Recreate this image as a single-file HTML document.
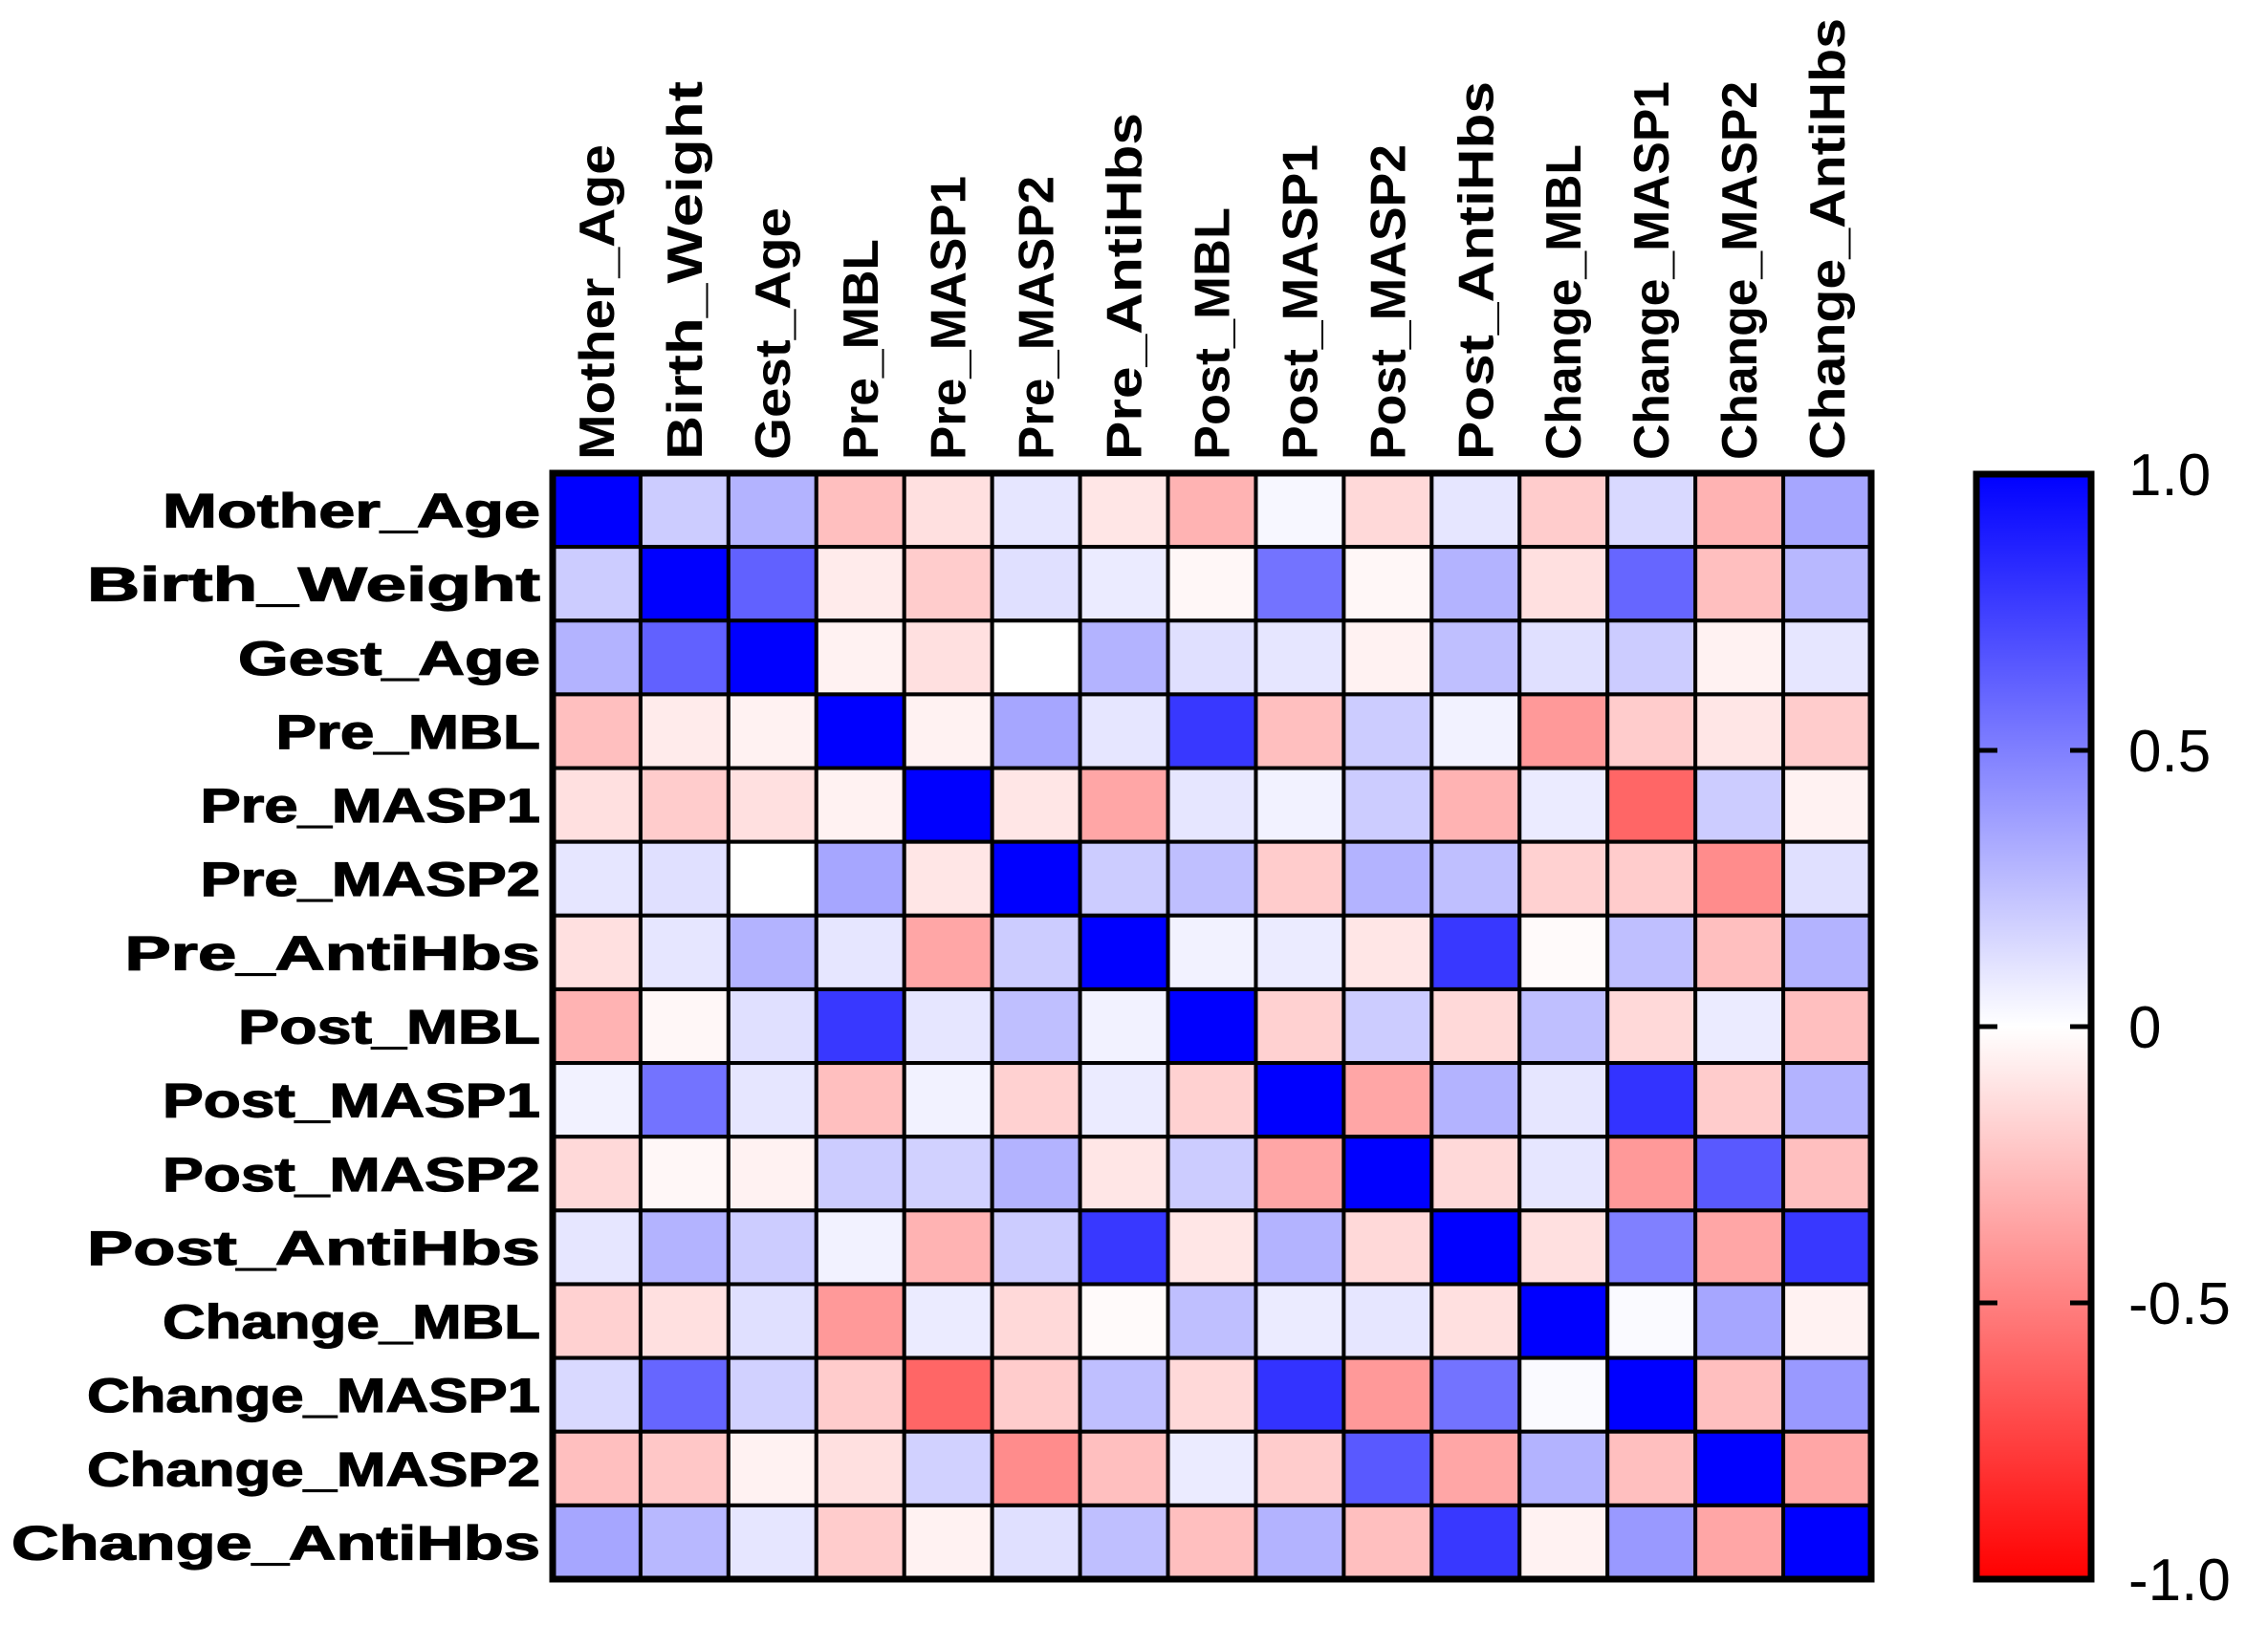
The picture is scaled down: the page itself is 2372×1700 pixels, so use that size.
<!DOCTYPE html>
<html><head><meta charset="utf-8"><style>
html,body{margin:0;padding:0;background:#fff;}
svg{display:block;}
</style></head><body>
<svg id="chart" width="2372" height="1700" viewBox="0 0 2372 1700" xmlns="http://www.w3.org/2000/svg" font-family="Liberation Sans, Arial, sans-serif">
<defs>
<linearGradient id="cbgrad" x1="0" y1="0" x2="0" y2="1">
<stop offset="0" stop-color="#0000ff"/><stop offset="0.5" stop-color="#ffffff"/><stop offset="1" stop-color="#ff0000"/>
</linearGradient>
</defs>
<g id="cells"></g>
<g id="rowlabels"></g>
<g id="collabels"></g>
<g id="colorbar"></g>
</svg>
<script>
const labels = ["Mother_Age","Birth_Weight","Gest_Age","Pre_MBL","Pre_MASP1","Pre_MASP2","Pre_AntiHbs","Post_MBL","Post_MASP1","Post_MASP2","Post_AntiHbs","Change_MBL","Change_MASP1","Change_MASP2","Change_AntiHbs"];
const row0 = [1,.2,.3,-.25,-.12,.1,-.1,-.3,.03,-.15,.1,-.2,.15,-.3,.35];
const row1 = [.2,1,.62,-.08,-.2,.12,.08,-.03,.55,-.03,.3,-.12,.6,-.25,.28];
const row2 = [.3,.62,1,-.05,-.12,0,.3,.12,.1,-.05,.25,.12,.2,-.05,.1];
const row3 = [-.25,-.08,-.05,1,-.05,.35,.1,.78,-.25,.2,.05,-.4,-.2,-.1,-.2];
const row4 = [-.12,-.2,-.12,-.05,1,-.1,-.35,.1,.05,.2,-.3,.08,-.6,.2,-.05];
const row5 = [.1,.12,0,.35,-.1,1,.2,.25,-.2,.3,.25,-.18,-.2,-.45,.12];
const row6 = [-.12,.1,.3,.1,-.35,.2,1,.05,.08,-.1,.78,-.02,.25,-.25,.3];
const row7 = [-.3,-.03,.12,.78,.1,.25,.05,1,-.18,.2,-.15,.25,-.15,.08,-.25];
const row8 = [.05,.55,.1,-.25,.05,-.18,.08,-.18,1,-.35,.3,.1,.8,-.2,.3];
const row9 = [-.15,-.03,-.05,.2,.18,.3,-.1,.2,-.35,1,-.15,.1,-.4,.65,-.25];
const row10 = [.1,.3,.2,.05,-.3,.2,.78,-.1,.3,-.15,1,-.12,.5,-.35,.78];
const row11 = [-.18,-.12,.12,-.4,.08,-.15,-.02,.25,.08,.1,-.12,1,.02,.35,-.05];
const row12 = [.15,.6,.18,-.2,-.6,-.2,.25,-.15,.8,-.4,.55,.02,1,-.25,.4];
const row13 = [-.25,-.22,-.05,-.12,.18,-.45,-.25,.08,-.2,.65,-.35,.3,-.25,1,-.35];
const row14 = [.35,.28,.1,-.2,-.05,.12,.25,-.25,.3,-.25,.78,-.05,.4,-.35,1];
const matrix = [row0,row1,row2,row3,row4,row5,row6,row7,row8,row9,row10,row11,row12,row13,row14];
const cbTicks = [1,0.5,0,-0.5,-1];
const cbTickLabels = ["1.0","0.5","0","-0.5","-1.0"];

const NS="http://www.w3.org/2000/svg";
const gx0=578, gx1=1957, gy0=495, gy1=1652;
const n=labels.length;
const cw=(gx1-gx0)/n, ch=(gy1-gy0)/n;
const xPos=i=>gx0+i*cw, yPos=i=>gy0+i*ch;
function color(v){
  const t=Math.min(1,Math.abs(v)); const c=Math.round(255*(1-t));
  return v>=0?`rgb(${c},${c},255)`:`rgb(255,${c},${c})`;
}
function mk(tag,attrs,parent){const e=document.createElementNS(NS,tag);for(const k in attrs)e.setAttribute(k,attrs[k]);parent.appendChild(e);return e;}
const cells=document.getElementById('cells');
matrix.forEach((row,r)=>row.forEach((v,c)=>{
  const e=mk('rect',{x:xPos(c),y:yPos(r),width:cw,height:ch,fill:color(v),stroke:'#000','stroke-width':4},cells);
  
  
}));
const border=mk('rect',{x:gx0,y:gy0,width:gx1-gx0,height:gy1-gy0,fill:'none',stroke:'#000','stroke-width':7},cells);


const rl=document.getElementById('rowlabels');
labels.forEach((l,i)=>{
  const t=mk('text',{x:565,y:yPos(i)+ch/2+18,'text-anchor':'end','font-size':50,'font-weight':'bold','stroke':'#000','stroke-width':1.2,textLength:39.5*l.length,lengthAdjust:'spacingAndGlyphs'},rl);
  t.textContent=l;
  
  
});
const cl=document.getElementById('collabels');
labels.forEach((l,i)=>{
  const cx=xPos(i)+cw/2+18, cy=481;
  const t=mk('text',{x:cx,y:cy,transform:`rotate(-90 ${cx} ${cy})`,'font-size':52,'font-weight':'bold',textLength:33*l.length,lengthAdjust:'spacingAndGlyphs'},cl);
  t.textContent=l;
  
  
});
const cb=document.getElementById('colorbar');
const bx0=2067,bx1=2187,by0=496,by1=1652;
const cbY=v=>by0+(1-v)/2*(by1-by0);
const bar=mk('rect',{x:bx0,y:by0,width:bx1-bx0,height:by1-by0,fill:'url(#cbgrad)',stroke:'#000','stroke-width':7},cb);


cbTicks.forEach((v,i)=>{
  const y=cbY(v);
  if(v<1&&v>-1){
    mk('line',{x1:bx0,x2:bx0+22,y1:y,y2:y,stroke:'#000','stroke-width':5},cb);
    mk('line',{x1:bx1-22,x2:bx1,y1:y,y2:y,stroke:'#000','stroke-width':5},cb);
  }
  const t=mk('text',{x:2226,y:y+22,'font-size':62},cb);
  t.textContent=cbTickLabels[i];
  
  
});
</script>
</body></html>
